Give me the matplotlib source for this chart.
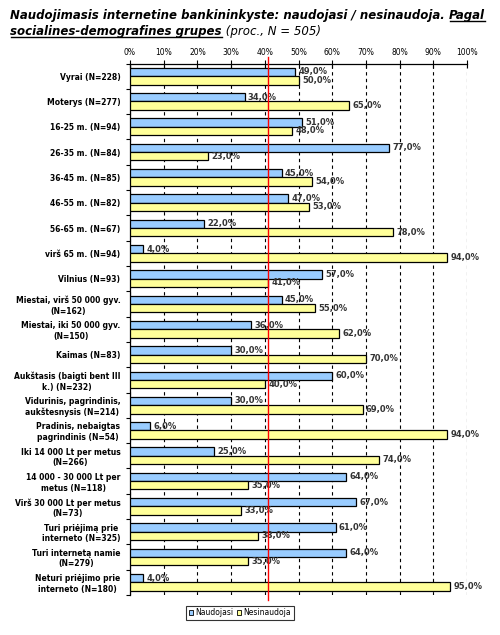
import numpy as np
import matplotlib.pyplot as plt
from matplotlib.lines import Line2D
from matplotlib.patches import Patch

categories = [
    "Vyrai (N=228)",
    "Moterys (N=277)",
    "16-25 m. (N=94)",
    "26-35 m. (N=84)",
    "36-45 m. (N=85)",
    "46-55 m. (N=82)",
    "56-65 m. (N=67)",
    "virš 65 m. (N=94)",
    "Vilnius (N=93)",
    "Miestai, virš 50 000 gyv.\n(N=162)",
    "Miestai, iki 50 000 gyv.\n(N=150)",
    "Kaimas (N=83)",
    "Aukštasis (baigti bent III\nk.) (N=232)",
    "Vidurinis, pagrindinis,\naukštesnysis (N=214)",
    "Pradinis, nebaigtas\npagrindinis (N=54)",
    "Iki 14 000 Lt per metus\n(N=266)",
    "14 000 - 30 000 Lt per\nmetus (N=118)",
    "Virš 30 000 Lt per metus\n(N=73)",
    "Turi priėjimą prie\ninterneto (N=325)",
    "Turi internetą namie\n(N=279)",
    "Neturi priėjimo prie\ninterneto (N=180)",
]
naudojasi = [49, 34, 51, 77, 45, 47, 22, 4, 57, 45, 36, 30, 60, 30, 6, 25, 64, 67, 61, 64, 4]
nesinaudoja = [50, 65, 48, 23, 54, 53, 78, 94, 41, 55, 62, 70, 40, 69, 94, 74, 35, 33, 38, 35, 95]
ref_line = 41
xticks = list(range(0, 101, 10))

blue = "#99CCFF"
yellow = "#FFFF99"

fig = plt.figure(figsize=(5, 6.35), dpi=100)
ax = fig.add_axes([0.26, 0.063, 0.674, 0.837])

y = np.arange(len(categories))
h = 0.33
ax.barh(y - h / 2, naudojasi, height=h, color=blue, edgecolor="black", linewidth=0.9, zorder=3)
ax.barh(y + h / 2, nesinaudoja, height=h, color=yellow, edgecolor="black", linewidth=0.9, zorder=3)

for yi, v in zip(y - h / 2, naudojasi):
    ax.text(v + 1, yi, f"{v:.1f}%".replace(".", ","), va="center", ha="left",
            fontsize=6, fontweight="bold", color="#333333", zorder=5)
for yi, v in zip(y + h / 2, nesinaudoja):
    ax.text(v + 1, yi, f"{v:.1f}%".replace(".", ","), va="center", ha="left",
            fontsize=6, fontweight="bold", color="#333333", zorder=5)

ax.set_xlim(0, 100)
ax.set_ylim(len(categories) - 0.55, -0.5)
ax.xaxis.tick_top()
ax.set_xticks(xticks)
ax.set_xticklabels([f"{t}%" for t in xticks], fontsize=5.5)
ax.tick_params(axis="x", direction="inout", length=6, width=0.8, pad=2, colors="black")
ax.grid(axis="x", color="black", linestyle=(0, (3, 3)), linewidth=0.8, zorder=1)

ax.set_yticks(y)
ax.set_yticklabels(categories, fontsize=5.5, fontweight="bold", multialignment="center")
ax.set_yticks(np.arange(-0.5, len(categories), 1), minor=True)
ax.tick_params(axis="y", which="major", length=0, pad=7)
ax.tick_params(axis="y", which="minor", length=3, width=0.8, direction="out")

for s in ["right", "bottom"]:
    ax.spines[s].set_visible(False)
ax.spines["top"].set_linewidth(0.9)
ax.spines["left"].set_linewidth(0.9)

# red reference line
ax.plot([ref_line, ref_line], [-0.75, len(categories) - 0.3], color="red",
        linewidth=1.0, clip_on=False, zorder=6)

handles = [Patch(facecolor=blue, edgecolor="black", linewidth=0.6),
           Patch(facecolor=yellow, edgecolor="black", linewidth=0.6)]
leg = ax.legend(handles, ["Naudojasi", "Nesinaudoja"], loc="center", bbox_to_anchor=(0.48, 0.035),
                bbox_transform=fig.transFigure, ncol=2, fontsize=5.5, frameon=True,
                handlelength=0.6, handleheight=0.6, handletextpad=0.3, columnspacing=0.4,
                borderpad=0.3, fancybox=False, edgecolor="black")
leg.get_frame().set_linewidth(0.8)

# title with mixed styles
renderer = fig.canvas.get_renderer()
fs = 8.5

def piece(x, yy, s, weight, underline=False):
    t = fig.text(x, yy, s, fontsize=fs, fontweight=weight, fontstyle="italic",
                 ha="left", va="baseline")
    bb = t.get_window_extent(renderer).transformed(fig.transFigure.inverted())
    if underline:
        uy = yy - 2.0 / 635
        fig.add_artist(Line2D([bb.x0 + 0.002, bb.x1], [uy, uy], transform=fig.transFigure,
                              color="black", linewidth=1.0))
    return bb.x1

x0 = 10 / 500
y1 = 1 - 19 / 635
y2 = 1 - 35 / 635
xe = piece(x0, y1, "Naudojimasis internetine bankininkyste: naudojasi / nesinaudoja. ", "bold")
piece(xe, y1, "Pagal", "bold", underline=True)
xe = piece(x0, y2, "socialines-demografines grupes", "bold", underline=True)
piece(xe, y2, " (proc., N = 505)", "normal")

fig.savefig("out.png", dpi=100)
